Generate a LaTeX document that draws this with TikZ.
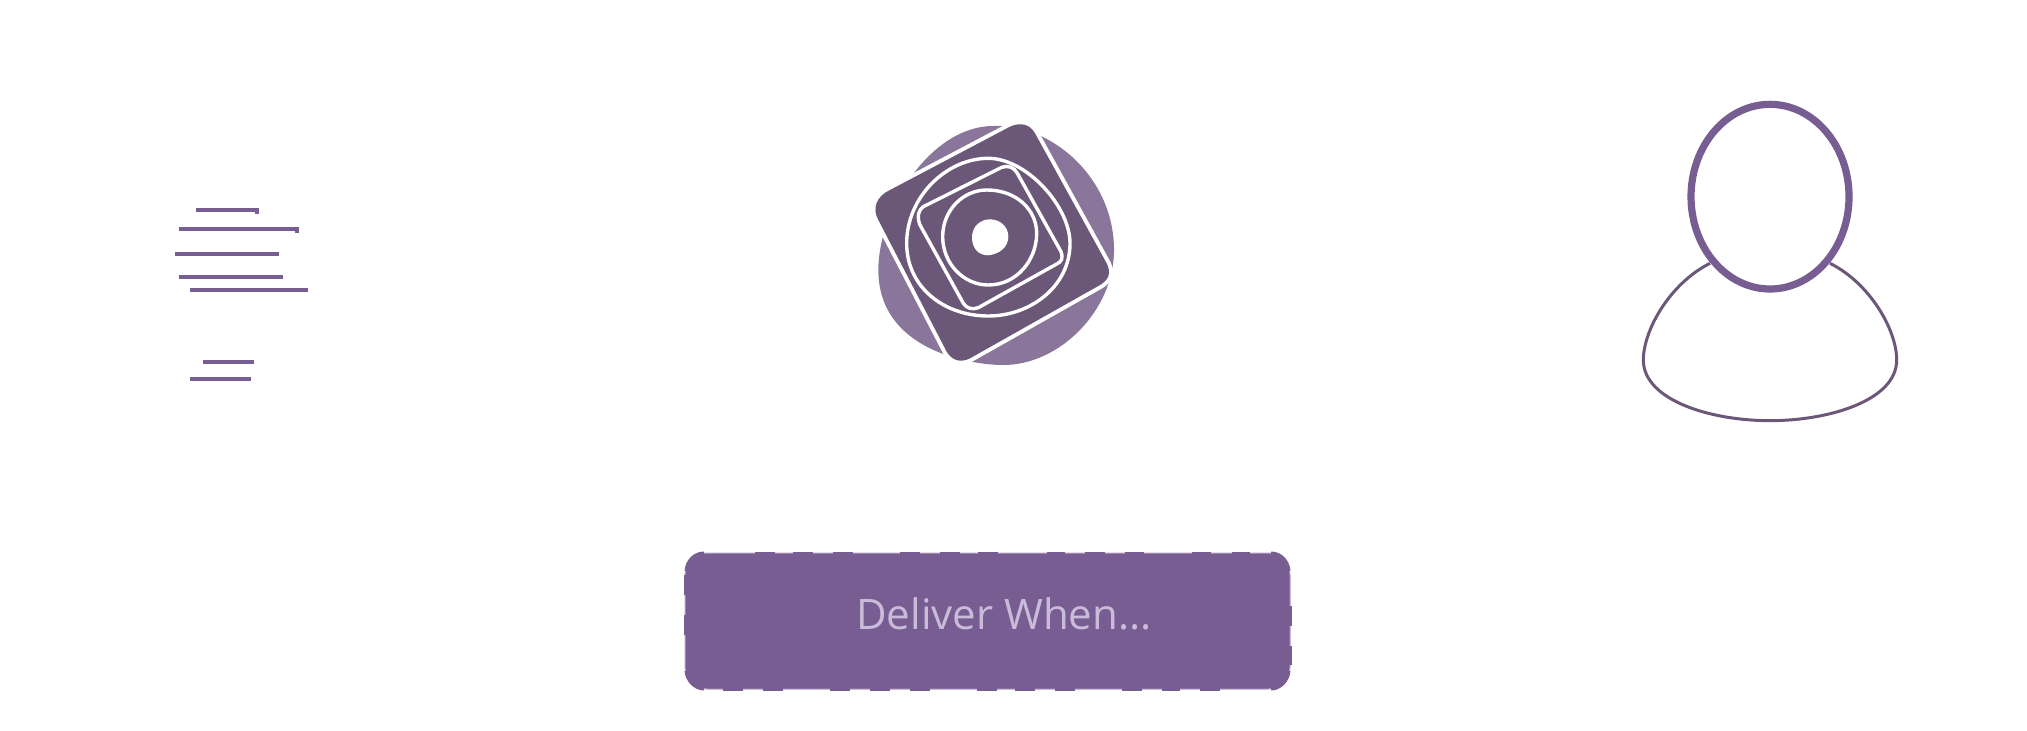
\documentclass[tikz,border=0pt]{standalone}
\usepackage{fontspec}
\setmainfont{Open Sans}
\definecolor{boxp}{HTML}{775D92}
\definecolor{darkp}{HTML}{6B5878}
\definecolor{softp}{HTML}{8A769A}
\definecolor{textp}{HTML}{C9BCDA}
\definecolor{edgep}{HTML}{B3A4C4}
\tikzset{
  speed/.style={draw=boxp,line width=1.75pt},
  tab/.style={draw=boxp,line width=1.5pt},
  loopline/.style={draw=white,line width=1.7pt},
}
\begin{document}
\begin{tikzpicture}[x=0.5pt,y=-0.5pt]
\useasboundingbox (0,0) rectangle (2027,731);
% speed lines
\draw[speed] (196,210) -- (257,210) -- (257,214);
\draw[speed] (179,229) -- (297,229) -- (297,233);
\draw[speed] (175,254) -- (279,254);
\draw[speed] (179,277) -- (283,277);
\draw[speed] (190,290) -- (308,290);
\draw[speed] (203,362) -- (254,362);
\draw[speed] (190,379) -- (251,379);
% logo
\begin{scope}[shift={(860,110)},x=0.16667pt,y=-0.16667pt]
\fill[softp] (400,48) .. controls (570,40) and (762,200) .. (762,420) .. controls (762,600) and (600,765) .. (430,765) .. controls (330,765) and (55,720) .. (55,480) .. controls (55,300) and (210,48) .. (400,48) -- cycle;
\path[fill=darkp,preaction={draw=white,line width=4pt}] (90,240) -- (450,50) .. controls (480,36) and (510,42) .. (525,70) -- (740,460) .. controls (755,490) and (745,510) .. (720,525) -- (330,745) .. controls (300,760) and (275,750) .. (260,725) -- (55,330) .. controls (35,295) and (50,258) .. (90,240) -- cycle;
\draw[loopline] (385,145) .. controls (500,145) and (630,290) .. (630,400) .. controls (630,530) and (510,618) .. (385,618) .. controls (250,618) and (140,530) .. (140,400) .. controls (140,260) and (260,145) .. (385,145) -- cycle;
\draw[loopline] (190,290) -- (425,172) .. controls (445,165) and (462,172) .. (472,190) -- (603,425) .. controls (610,445) and (605,455) .. (590,462) -- (355,593) .. controls (335,600) and (320,595) .. (310,580) -- (180,345) .. controls (170,320) and (175,300) .. (190,290) -- cycle;
\draw[loopline] (380,240) .. controls (470,240) and (530,300) .. (530,370) .. controls (530,450) and (470,525) .. (385,525) .. controls (310,525) and (248,460) .. (248,380) .. controls (248,300) and (310,240) .. (380,240) -- cycle;
\fill[white] (390,328) .. controls (420,328) and (445,350) .. (445,380) .. controls (445,410) and (420,432) .. (385,436) .. controls (355,436) and (336,415) .. (336,382) .. controls (336,350) and (360,328) .. (390,328) -- cycle;
\end{scope}
% person
\begin{scope}[shift={(1620,90)},x=0.16667pt,y=-0.16667pt]
\draw[darkp,line width=1.5pt] (270,520) .. controls (150,580) and (70,720) .. (70,810) .. controls (70,930) and (270,992) .. (450,992) .. controls (630,992) and (830,930) .. (830,810) .. controls (830,720) and (750,580) .. (630,520);
\draw[boxp,line width=3.6pt] (450,320) ellipse [x radius=237,y radius=277];
\end{scope}
% deliver box
\path[fill=boxp,draw=edgep,line width=0.5pt,rounded corners=11pt] (685,553) rectangle (1290,689);
\draw[tab] (686,571) .. controls (687,560) and (695,553) .. (704,553);
\draw[tab] (1271,553) .. controls (1280,553) and (1288,560) .. (1289,571);
\draw[tab] (1289,671) .. controls (1288,681) and (1280,689) .. (1271,689);
\draw[tab] (704,689) .. controls (695,689) and (687,681) .. (686,671);
\foreach \a/\b in {755/775,793/813,833/853,900/920,940/960,978/998,1047/1065,1085/1105,1125/1144,1192/1211,1232/1250}
  \draw[tab] (\a,553) -- (\b,553);
\foreach \a/\b in {723/743,763/783,830/850,870/890,910/930,977/997,1015/1035,1055/1075,1122/1142,1162/1180,1200/1220}
  \draw[tab] (\a,689) -- (\b,689);
\foreach \a/\b in {575/595,615/635}
  \draw[tab] (685,\a) -- (685,\b);
\foreach \a/\b in {606/626,646/665}
  \draw[tab] (1290,\a) -- (1290,\b);
\node[text=textp,font=\fontsize{21pt}{25pt}\selectfont,inner sep=0pt,anchor=base] (deliver) at (1004,629) {Deliver When...};
\end{tikzpicture}
\end{document}
